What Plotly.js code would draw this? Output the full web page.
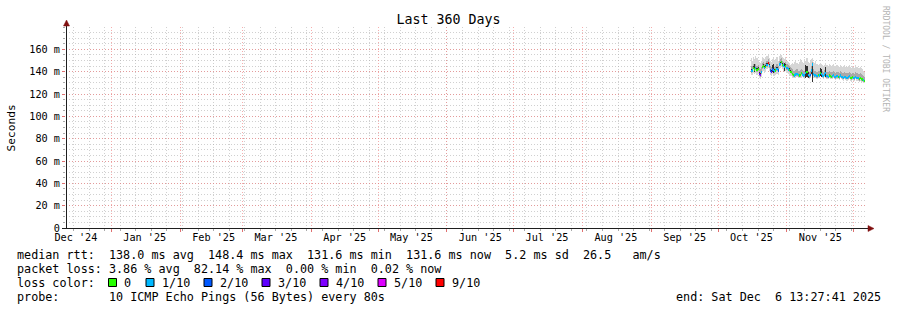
<!DOCTYPE html>
<html><head><meta charset="utf-8">
<script src="https://cdn.plot.ly/plotly-3.0.1.min.js"></script>
<style>html,body{margin:0;padding:0;background:#fff}#chart{width:897px;height:310px}</style>
</head><body><div id="chart"></div>
<script>
// ---------- data ----------
const START = '2025-10-16 00:00:00';
const STEP_HOURS = 12;
const RANGE_START = '2024-12-11 13:27:41';
const RANGE_END = '2025-12-06 13:27:41';

// median rtt (ms), one value per 12 h step
const median = [
 140.5,141.0,143.5,142.0,143.0,141.5,142.5,138.0,137.0,139.5,
 144.0,145.0,143.5,144.5,146.0,147.5,145.0,141.0,140.0,142.0,
 141.5,140.5,141.0,142.5,141.0,146.5,147.0,148.4,146.0,145.5,
 144.0,145.0,143.0,142.0,141.5,140.0,
 139.5,138.0,137.0,136.5,137.5,138.0,137.0,136.5,137.0,138.5,
 137.5,136.5,137.0,138.5,140.0,137.0,136.0,137.0,141.0,146.5,
 138.0,136.5,137.0,136.0,137.0,136.5,139.0,138.0,136.5,136.0,
 137.5,139.0,136.0,135.5,136.5,136.0,135.5,136.0,137.0,135.5,
 135.0,136.0,135.5,135.0,136.5,135.5,135.0,134.5,135.5,135.0,
 134.5,135.0,136.0,134.5,134.0,135.0,134.5,134.0,135.5,134.5,
 134.0,133.5,134.5,133.5,133.0,132.5,131.6];
// lost pings out of 10
const lossCount = [
 1,1,0,0,1,0,0,3,4,1, 0,0,1,0,1,9,1,2,3,2, 1,1,0,1,2,1,1,0,0,1, 1,0,1,1,0,0,
 0,0,0,1,1,1,1,0,0,0, 1,1,1,1,0,1,1,2,1,1, 1,1,1,1,0,1,0,1,1,1,
 1,1,1,1,0,0,0,1,1,1, 1,1,0,1,1,1,1,1,1,1, 1,1,1,0,0,0,1,1,1,1,
 1,0,0,0,0,1,0];
// smoke: slowest / fastest ping
const smokeMax = [
 152,150,153,151,154,152,150,149,148,150, 153,152,151,153,154,155,152,150,149,151,
 152,150,151,153,150,154,155,155,153,152, 151,153,150,149,148,146,
 147,148,147,149,150,148,147,149,151,150, 149,148,151,150,152,149,148,150,151,152,
 149,148,150,147,146,147,148,147,146,145, 146,148,146,145,147,146,145,146,147,145,
 145,146,145,144,146,145,144,145,146,144, 144,145,146,144,143,145,144,143,146,144,
 143,143,144,143,142,141,140];
const smokeMin = [
 137,137,139,138,139,137,138,134,133,135, 140,141,139,140,142,143,141,137,136,138,
 137,136,137,138,137,142,143,144,142,141, 140,141,139,138,137,136,
 136.5,135.5,134.5,134,135,135.5,134.5,134,134.5,135.5, 135,134,134.5,135.5,136.5,134.5,133.5,134,137,139,
 135.5,134,134.5,133.5,134.5,134,136,135.5,134,133.5, 135,136,133.5,133,134,133.5,133,133.5,134.5,133,
 132.5,133.5,133,132.5,134,133,132.5,132,133,132.5, 132,132.5,133.5,132,131.5,132.5,132,131.5,133,132,
 131.5,131,132,131,130.5,130,129.5];
// smoke: middle pings band
const smokeUpper = [
 145,145,147,146,147,145,146,143,142,144, 148,149,147,148,150,151,149,145,144,146,
 146,144,145,147,145,150,151,152,150,149, 148,149,147,146,145,144,
 143,142,141,140.5,141.5,142,141,140.5,141.5,142.5, 141.5,140.5,141,142.5,144,141,140,141,145,149,
 142,140.5,141,140,141,140.5,143,142,140.5,140, 141.5,143,140,139.5,140.5,140,139.5,140,141,139.5,
 139,140,139.5,139,140.5,139.5,139,138.5,139.5,139, 138.5,139,140,138.5,138,139,138.5,138,139.5,138.5,
 138,137.5,138.5,137.5,137,136.5,135.5];
const smokeLower = [
 139,139.5,142,140.5,141.5,140,141,136.5,135.5,138, 142.5,143.5,142,143,144.5,146,143.5,139.5,138.5,140.5,
 140,139,139.5,141,139.5,145,145.5,147,144.5,144, 142.5,143.5,141.5,140.5,140,138.5,
 138,136.5,135.5,135,136,136.5,135.5,135,135.5,137, 136,135,135.5,137,138.5,135.5,134.5,135.5,139.5,144,
 136.5,135,135.5,134.5,135.5,135,137.5,136.5,135,134.5, 136,137.5,134.5,134,135,134.5,134,134.5,135.5,134,
 133.5,134.5,134,133.5,135,134,133.5,133,134,133.5, 133,133.5,134.5,133,132.5,133.5,133,132.5,134,133,
 132.5,132,133,132,131.5,131,130.5];
// smoke: densest core around the median
const coreUpper = [
 142,142,145,147,144.5,143,144,139.5,138.5,141, 145.5,146.5,145,146,147.5,149,146.5,142.5,141.5,146,
 147,142,142.5,144,142.5,148,148.5,150,147.5,147, 148,146.5,144.5,143.5,143,141.5,
 140.5,139,138,137.5,138.5,139,138,137.5,138,139.5, 138.5,137.5,138,146,145,140,137,138,142,148,
 139,137.5,138,137,138,137.5,143,142,137.5,137, 138.5,144,137,136.5,137.5,137,136.5,137,138,136.5,
 136,137,136.5,136,137.5,136.5,136,135.5,136.5,136, 135.5,136,137,135.5,135,136,135.5,135,136.5,135.5,
 135,134.5,135.5,134.5,134,133.5,132.5];
const coreLower = [
 139.5,140,142.5,140,142,140.5,141.5,137,136,138.5, 143,144,142.5,143.5,145,146.5,144,140,139,139.5,
 139,139.5,140,141.5,140,145.5,146,147.5,145,144.5, 141,144,142,141,140.5,139,
 138.7,137.2,136.2,135.7,136.7,137.2,136.2,135.7,136.2,137.7, 136.7,135.7,136.2,134,135,134.5,135.2,136.2,138,131,
 137.2,135.7,136.2,135.2,136.2,135.7,136,135,135.7,135.2, 136.7,135,135.2,134.7,135.7,135.2,134.7,135.2,136.2,134.7,
 134.2,135.2,134.7,134.2,135.7,134.7,134.2,133.7,134.7,134.2, 133.7,134.2,135.2,133.7,133.2,134.2,133.7,133.2,134.7,133.7,
 133.2,132.7,133.7,132.7,132.2,131.7,130.8];

const monthLabelDates = ['2024-12-16','2025-01-16','2025-02-16','2025-03-16','2025-04-16','2025-05-16',
 '2025-06-16','2025-07-16','2025-08-16','2025-09-16','2025-10-16','2025-11-16'];
const monthLabels = ["Dec '24","Jan '25","Feb '25","Mar '25","Apr '25","May '25",
 "Jun '25","Jul '25","Aug '25","Sep '25","Oct '25","Nov '25"];
const monthStarts = ['2025-01-01','2025-02-01','2025-03-01','2025-04-01','2025-05-01','2025-06-01',
 '2025-07-01','2025-08-01','2025-09-01','2025-10-01','2025-11-01','2025-12-01'];
const yTickVals = [0,20,40,60,80,100,120,140,160];
const yTickText = ['0','20 m','40 m','60 m','80 m','100 m','120 m','140 m','160 m'];

const lossLegendLabels = ['0','1/10','2/10','3/10','4/10','5/10','9/10'];
const lossLegendColors = ['#26ff00','#00b8ff','#0059ff','#5e00ff','#7e00ff','#dd00ff','#ff0000'];

const statsRtt = 'median rtt:  138.0 ms avg  148.4 ms max  131.6 ms min  131.6 ms now  5.2 ms sd  26.5   am/s';
const statsLoss = 'packet loss: 3.86 % avg  82.14 % max  0.00 % min  0.02 % now';
const probeText = 'probe:       10 ICMP Echo Pings (56 Bytes) every 80s';
const endText = 'end: Sat Dec  6 13:27:41 2025';

// ---------- build ----------
const MONO = 'DejaVu Sans Mono';
const t0 = Date.parse(START.replace(' ', 'T') + 'Z');
const times = median.map((_, i) => new Date(t0 + i * STEP_HOURS * 3600e3).toISOString().slice(0, 19).replace('T', ' '));
const barW = STEP_HOURS * 3600e3;
function lossIdx(n) { return n <= 4 ? n : (n <= 8 ? 5 : 6); }

function band(lo, hi, color) {
  return { type: 'bar', x: times, base: lo, y: hi.map((h, i) => h - lo[i]), width: barW,
    marker: { color: color, line: { width: 0 } }, hoverinfo: 'skip', showlegend: false };
}
const traces = [
  band(smokeMin, smokeMax, '#d6d6d6'),
  band(smokeLower, smokeUpper, '#a8a8a8'),
  band(coreLower, coreUpper, '#303030'),
  { type: 'bar', x: times, base: median.map(v => v - 1.0), y: median.map(() => 2.0), width: barW,
    marker: { color: lossCount.map(n => lossLegendColors[lossIdx(n)]), line: { width: 0 } },
    hoverinfo: 'skip', showlegend: false },
  { type: 'scatter', mode: 'markers', x: times.slice(0, 1), y: median.slice(0, 1), xaxis: 'x2',
    marker: { opacity: 0 }, hoverinfo: 'skip', showlegend: false }
];

// pixel -> paper helpers (plot area: x 66..866, y 27..228)
const L = 66, W = 800, T = 27, H = 201;
const px = x => (x - L) / W;
const py = y => (T + H - y) / H;

const textFont = { family: MONO, size: 11.75, color: '#000' };
const nb = s => s.replace(/ /g, '\u00a0');
const annotations = [
  { text: nb(statsRtt), x: px(16), y: py(254.5) },
  { text: nb(statsLoss), x: px(16), y: py(268.5) },
  { text: nb('loss color:'), x: px(16), y: py(282.5) },
  { text: nb(probeText), x: px(16), y: py(296.5) },
].map(a => Object.assign(a, { xref: 'paper', yref: 'paper', xanchor: 'left', yanchor: 'middle',
  showarrow: false, font: textFont, borderpad: 0 }));
annotations.push({ text: nb(endText), x: px(882), y: py(296.5), xref: 'paper', yref: 'paper',
  xanchor: 'right', yanchor: 'middle', showarrow: false, font: textFont, borderpad: 0 });
annotations.push({ text: 'Seconds', x: px(11), y: py(127.5), xref: 'paper', yref: 'paper',
  xanchor: 'center', yanchor: 'middle', borderpad: 0,
  textangle: -90, showarrow: false, font: { family: MONO, size: 11.2, color: '#000' } });
annotations.push({ text: nb('RRDTOOL / TOBI OETIKER'), x: px(886), y: py(59), xref: 'paper', yref: 'paper',
  xanchor: 'center', yanchor: 'middle', borderpad: 0,
  textangle: 90, showarrow: false, font: { family: MONO, size: 8, color: '#b4b4b4' } });

const shapes = [];
const boxX = [108.5, 146, 204, 262, 320, 378, 436];
lossLegendLabels.forEach((lab, k) => {
  shapes.push({ type: 'rect', xref: 'paper', yref: 'paper', x0: px(boxX[k]), x1: px(boxX[k] + 8),
    y0: py(286.5), y1: py(278.5), fillcolor: lossLegendColors[k], line: { color: '#000', width: 1 } });
  annotations.push({ text: nb(lab), x: px(boxX[k] + 14.5), y: py(282.5), xref: 'paper', yref: 'paper',
    xanchor: 'left', yanchor: 'middle', showarrow: false, font: textFont, borderpad: 0 });
});
// axis lines with arrows
const AX = '#1e1e1e', ARROW = '#801010';
shapes.push({ type: 'line', xref: 'paper', yref: 'paper', x0: px(66.5), x1: px(66.5), y0: py(229), y1: py(23), line: { color: AX, width: 1 }, layer: 'above' });
shapes.push({ type: 'line', xref: 'paper', yref: 'paper', x0: px(62), x1: px(870), y0: py(228.5), y1: py(228.5), line: { color: AX, width: 1 }, layer: 'above' });
shapes.push({ type: 'path', xref: 'paper', yref: 'paper', layer: 'above',
  path: `M ${px(63.5)} ${py(26)} L ${px(66.5)} ${py(20)} L ${px(69.5)} ${py(26)} Z`, fillcolor: ARROW, line: { color: ARROW, width: 0.5 } });
shapes.push({ type: 'path', xref: 'paper', yref: 'paper', layer: 'above',
  path: `M ${px(868)} ${py(225.5)} L ${px(874)} ${py(228.5)} L ${px(868)} ${py(231.5)} Z`, fillcolor: ARROW, line: { color: ARROW, width: 0.5 } });

const RED_GRID = 'rgba(240,120,120,0.6)', GREY_GRID = 'rgba(170,170,170,0.55)', DASH = '1px,2px';
const tickFont = { family: MONO, size: 10.2, color: '#000' };
const layout = {
  width: 897, height: 310,
  margin: { l: L, r: 897 - L - W, t: T, b: 310 - T - H, pad: 0 },
  paper_bgcolor: '#ffffff', plot_bgcolor: '#ffffff',
  barmode: 'overlay', bargap: 0, showlegend: false,
  title: { text: 'Last 360 Days', font: { family: MONO, size: 13.3, color: '#000' },
    x: 0.5, xref: 'container', xanchor: 'center', y: 1 - 19 / 310, yref: 'container', yanchor: 'middle' },
  xaxis: { type: 'date', range: [RANGE_START, RANGE_END], tickmode: 'array', tickvals: monthLabelDates,
    ticktext: monthLabels, ticks: '', showgrid: false, zeroline: false, showline: false,
    tickfont: tickFont, ticklabelstandoff: 2, fixedrange: true },
  xaxis2: { type: 'date', overlaying: 'x', anchor: 'y', side: 'bottom', range: [RANGE_START, RANGE_END],
    tickmode: 'array', tickvals: monthStarts, showticklabels: false, ticks: 'outside', ticklen: 3,
    tickcolor: '#e07070', showgrid: true, gridcolor: RED_GRID, griddash: DASH, gridwidth: 1,
    zeroline: false, showline: false,
    minor: { tick0: '2024-12-15', dtick: 7 * 86400000, showgrid: true, gridcolor: GREY_GRID, griddash: DASH,
      ticks: 'outside', ticklen: 2, tickcolor: '#aaa' } },
  yaxis: { range: [0, 180], tickmode: 'array', tickvals: yTickVals, ticktext: yTickText,
    ticks: 'outside', ticklen: 3, tickcolor: '#e07070', showgrid: true, gridcolor: RED_GRID, griddash: DASH,
    zeroline: false, showline: false, tickfont: tickFont,
    minor: { dtick: 5, showgrid: true, gridcolor: GREY_GRID, griddash: DASH, ticks: 'outside', ticklen: 2, tickcolor: '#aaa' } },
  annotations: annotations, shapes: shapes
};
Plotly.newPlot('chart', traces, layout, { staticPlot: true, displayModeBar: false });
</script></body></html>
